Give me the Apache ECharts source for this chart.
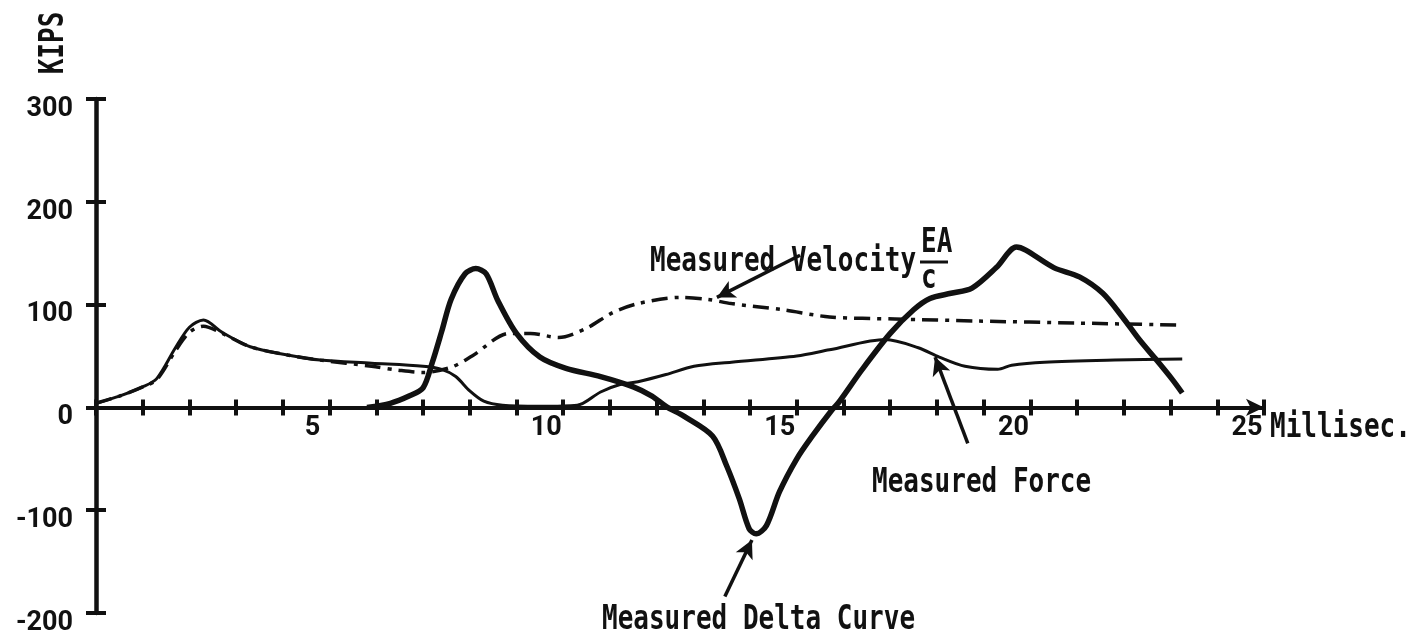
<!DOCTYPE html>
<html>
<head>
<meta charset="utf-8">
<script src="https://cdn.jsdelivr.net/npm/echarts@6/dist/echarts.min.js"></script>
<style>
html,body{margin:0;padding:0;background:#ffffff;}
#chart{width:1418px;height:640px;}
</style>
</head>
<body>
<div id="chart"></div>
<script>
// ---- data ----
const xLabelValues = [5, 10, 15, 20, 25];
const yTickValues = [300, 200, 100, 0, -100, -200];

const forceTime = [0, 0.5, 1.0, 1.3, 1.7, 2.0, 2.3, 2.7, 3.3, 4.1, 4.8, 5.9, 7.0, 7.4, 7.7, 8.0, 8.3, 8.7, 9.5, 10.3, 10.8, 11.2, 11.6, 12.2, 12.8, 13.6, 15.0, 15.7, 16.9, 17.6, 18.05, 18.6, 19.3, 19.6, 20.3, 21.8, 23.25];
const forceKips = [4, 11, 20, 28, 58, 78, 85, 73, 59, 51, 46, 43, 40, 37, 30, 16, 6, 2, 1, 2, 15, 22, 25, 32, 40, 44, 50, 56, 66, 58, 49, 40, 37, 41, 44, 46, 47];

const velocityTime = [0, 0.5, 1.0, 1.3, 1.7, 2.0, 2.3, 2.7, 3.3, 4.1, 4.8, 5.9, 6.5, 7.0, 7.6, 8.05, 8.85, 9.3, 9.9, 10.5, 11.05, 11.6, 12.5, 13.1, 13.6, 14.7, 15.7, 17.1, 18.9, 21.05, 23.25];
const velocityKips = [4, 11, 20, 27, 55, 73, 79, 72, 59, 51, 46, 40, 36, 34, 39, 50, 72, 72, 68, 77, 92, 101, 107, 105, 101, 95, 88, 86, 84, 82, 80];

const deltaTime = [5.8, 6.3, 6.7, 7.0, 7.2, 7.4, 7.6, 7.9, 8.13, 8.35, 8.6, 9.0, 9.5, 10.06, 10.8, 11.5, 11.9, 12.2, 12.6, 13.2, 13.5, 13.77, 13.98, 14.13, 14.35, 14.63, 15.0, 15.33, 15.76, 15.9, 16.4, 17.0, 17.5, 17.85, 18.3, 18.75, 19.27, 19.7, 19.9, 20.5, 21.05, 21.55, 21.97, 22.33, 22.7, 23.04, 23.25];
const deltaKips = [0, 4, 11, 19, 44, 74, 105, 130, 135, 130, 104, 72, 49, 38, 30, 20, 11, 1, -9, -28, -57, -89, -118, -123, -115, -82, -50, -28, -2, 5, 37, 72, 95, 106, 111, 116, 136, 156, 153, 136, 127, 111, 88, 66, 46, 27, 14];

// annotation arrows: [tail time, tail kips, head time, head kips]
const velocityArrow = [15.07, 148, 13.29, 107];
const forceArrow = [18.66, -35, 17.96, 49];
const deltaArrow = [13.46, -184, 14.04, -129];

const labels = {
  yName: 'KIPS',
  xName: 'Millisec.',
  velocity: 'Measured Velocity',
  fracTop: 'EA',
  fracBottom: 'c',
  force: 'Measured Force',
  delta: 'Measured Delta Curve'
};

// ---- build ----
const zip = (a, b) => a.map((v, i) => [v, b[i]]);
const INK = '#111111';
const monoFont = "'DejaVu Sans Mono', 'Liberation Mono', monospace";
const digitFont = "Roboto, 'Noto Sans', sans-serif";

const GRID = { left: 96, right: 154, top: 99, bottom: 27 };
const Y_MIN = -200, Y_MAX = 300;
const plotH = 640 - GRID.top - GRID.bottom;
const zeroOffset = -(plotH * (0 - Y_MIN) / (Y_MAX - Y_MIN)); // move x axis up onto value 0

function arrowMark(a) {
  return {
    silent: true,
    symbol: ['none', 'arrow'],
    symbolSize: [14, 18],
    label: { show: false },
    lineStyle: { color: INK, width: 3.5, type: 'solid' },
    emphasis: { disabled: true },
    data: [[{ coord: [a[0], a[1]] }, { coord: [a[2], a[3]] }]]
  };
}

function annText(text, x, y, extra) {
  return Object.assign({
    type: 'text', x: x, y: y, scaleY: 1.28, z: 100,
    style: {
      text: text, fill: INK,
      fontFamily: monoFont, fontSize: 26, fontWeight: 'bold',
      align: 'left', verticalAlign: 'middle',
      textAlign: 'left', textVerticalAlign: 'middle'
    }
  }, extra || {});
}

const chart = echarts.init(document.getElementById('chart'), null, { renderer: 'canvas' });

const xCommon = { type: 'value', min: 0, max: 25, interval: 1, position: 'bottom', offset: zeroOffset, splitLine: { show: false } };
const yCommon = { type: 'value', min: Y_MIN, max: Y_MAX, interval: 100, position: 'left', splitLine: { show: false } };

chart.setOption({
  backgroundColor: '#ffffff',
  animation: false,
  grid: Object.assign({ containLabel: false, outerBoundsMode: 'none' }, GRID),
  xAxis: [
    Object.assign({}, xCommon, {
      axisLine: { show: true, onZero: false, symbol: ['none', 'arrow'], symbolSize: [13, 18],
        lineStyle: { color: INK, width: 4 } },
      axisTick: { show: true, inside: false, length: 8, lineStyle: { color: INK, width: 4 } },
      axisLabel: {
        show: true, color: INK, fontFamily: digitFont, fontWeight: 'bold', fontSize: 27, margin: 8,
        lineHeight: 26, padding: [0, 34, 0, 0],
        formatter: v => (xLabelValues.indexOf(v) >= 0 ? String(v) : '')
      }
    }),
    Object.assign({}, xCommon, {
      axisLine: { show: false, onZero: false },
      axisTick: { show: true, inside: true, length: 8, lineStyle: { color: INK, width: 4 } },
      axisLabel: { show: false }
    })
  ],
  yAxis: [
    Object.assign({}, yCommon, {
      axisLine: { show: true, onZero: false, lineStyle: { color: INK, width: 4.5 } },
      axisTick: { show: true, inside: false, length: 10, lineStyle: { color: INK, width: 4 } },
      axisLabel: {
        show: true, color: INK, fontFamily: digitFont, fontWeight: 'bold', fontSize: 27, margin: 23,
        verticalAlign: 'top', lineHeight: 20,
        formatter: v => (yTickValues.indexOf(v) >= 0 ? String(v) : '')
      }
    }),
    Object.assign({}, yCommon, {
      axisLine: { show: false, onZero: false },
      axisTick: { show: true, inside: true, length: 10, lineStyle: { color: INK, width: 4 } },
      axisLabel: { show: false }
    })
  ],
  series: [
    {
      name: 'Measured Force', type: 'line', xAxisIndex: 0, yAxisIndex: 0,
      data: zip(forceTime, forceKips), showSymbol: false, smooth: 0.3,
      lineStyle: { color: INK, width: 3 }, silent: true, z: 3,
      markLine: arrowMark(forceArrow)
    },
    {
      name: 'Measured Velocity EA/c', type: 'line', xAxisIndex: 0, yAxisIndex: 0,
      data: zip(velocityTime, velocityKips), showSymbol: false, smooth: 0.3,
      lineStyle: { color: INK, width: 3.5, type: [16, 7, 4, 7] }, silent: true, z: 3,
      markLine: arrowMark(velocityArrow)
    },
    {
      name: 'Measured Delta Curve', type: 'line', xAxisIndex: 0, yAxisIndex: 0,
      data: zip(deltaTime, deltaKips), showSymbol: false, smooth: 0.3,
      lineStyle: { color: INK, width: 5.5 }, silent: true, z: 4,
      markLine: arrowMark(deltaArrow)
    }
  ],
  graphic: [
    annText(labels.yName, 54, 43, { rotation: Math.PI / 2, style: {
      text: labels.yName, fill: INK, fontFamily: monoFont, fontSize: 26, fontWeight: 'bold',
      align: 'center', verticalAlign: 'middle', textAlign: 'center', textVerticalAlign: 'middle' } }),
    annText(labels.xName, 1270, 428),
    annText(labels.velocity, 650, 262),
    annText(labels.fracTop, 921, 243),
    { type: 'line', z: 100, shape: { x1: 920, y1: 262, x2: 948, y2: 262 }, style: { stroke: INK, lineWidth: 3 } },
    annText(labels.fracBottom, 921, 279),
    annText(labels.force, 872, 483),
    annText(labels.delta, 602, 620)
  ]
});
</script>
</body>
</html>
